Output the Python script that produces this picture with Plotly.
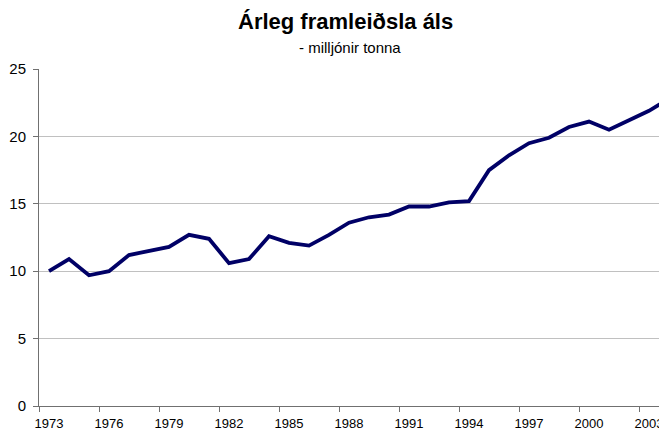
import plotly.graph_objects as go

years = list(range(1973, 2005))
production = [10.0, 10.9, 9.7, 10.0, 11.2, 11.5, 11.8, 12.7, 12.4, 10.6,
              10.9, 12.6, 12.1, 11.9, 12.7, 13.6, 14.0, 14.2, 14.8, 14.8,
              15.1, 15.2, 17.5, 18.6, 19.5, 19.9, 20.7, 21.1, 20.5, 21.2,
              21.9, 22.8]
tick_years = list(range(1973, 2004, 3))
tick_labels = [str(y) for y in tick_years]

title_text = "Árleg framleiðsla áls"
subtitle_text = "- milljónir tonna"

W, H = 667, 432
OFF = 8  # default page body margin in the browser
# plot area in page pixels: left 39, right 667, top 69, bottom 406
ml, mr, mt, mb = 39 - OFF, OFF, 69 - OFF, H - (406 - OFF)

fig = go.Figure()
fig.add_trace(go.Scatter(x=years, y=production, mode="lines",
                         line=dict(color="#000066", width=3.8),
                         hoverinfo="x+y", showlegend=False))

font = "Liberation Sans, Arial, sans-serif"
fig.update_layout(
    width=W, height=H,
    margin=dict(l=ml, r=mr, t=mt, b=mb, autoexpand=False),
    paper_bgcolor="white", plot_bgcolor="white",
    font=dict(family=font, size=13, color="black"),
    xaxis=dict(range=[1972.5, 2003.9], tickmode="array", tickvals=tick_years,
               ticktext=tick_labels, ticks="", showgrid=False, zeroline=False,
               showline=True, linecolor="#707070", linewidth=1,
               tickfont=dict(size=13), ticklabelstandoff=5, automargin=False,
               minor=dict(tickmode="linear", tick0=1972.5, dtick=3,
                          ticks="outside", ticklen=5, tickcolor="#707070",
                          showgrid=False)),
    yaxis=dict(range=[0, 25], tickmode="linear", tick0=0, dtick=5,
               showgrid=True, gridcolor="#c0c0c0", gridwidth=1,
               zeroline=False, showline=True, linecolor="#707070",
               linewidth=1, ticks="outside", ticklen=5, tickcolor="#707070",
               tickfont=dict(size=15), ticklabelstandoff=4, automargin=False),
)

pw = W - ml - mr
ph = H - mt - mb


def px_to_paper(xp, yp):
    xf, yf = xp - OFF, yp - OFF
    return (xf - ml) / pw, ((H - yf) - mb) / ph


tx, ty = px_to_paper(345.5, 22)
sx, sy = px_to_paper(350, 48)
fig.add_annotation(text="<b>" + title_text + "</b>", x=tx, y=ty,
                   xref="paper", yref="paper", showarrow=False,
                   xanchor="center", yanchor="middle",
                   font=dict(size=22, family=font))
fig.add_annotation(text=subtitle_text, x=sx, y=sy,
                   xref="paper", yref="paper", showarrow=False,
                   xanchor="center", yanchor="middle",
                   font=dict(size=15, family=font))

fig.write_html("out.html")
